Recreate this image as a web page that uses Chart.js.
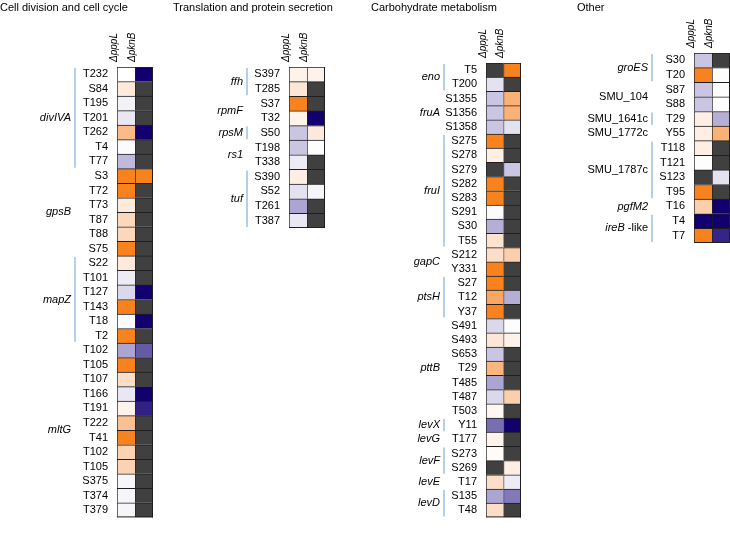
<!DOCTYPE html>
<html><head><meta charset="utf-8">
<script src="https://cdn.jsdelivr.net/npm/chart.js@4/dist/chart.umd.min.js"></script>
<style>
body{margin:0;background:#fff;width:730px;height:533px;overflow:hidden;position:relative;font-family:"Liberation Sans",Arial,sans-serif;}
canvas{position:absolute;left:0;top:0;}
.t{position:absolute;top:0px;font-size:11px;line-height:14px;color:#000;white-space:nowrap;z-index:5}
</style></head><body>
<div class="t" style="left:0">Cell division and cell cycle</div>
<div class="t" style="left:173px">Translation and protein secretion</div>
<div class="t" style="left:371px">Carbohydrate metabolism</div>
<div class="t" style="left:577px">Other</div>
<canvas id="c1" width="730" height="533"></canvas>
<canvas id="c2" width="730" height="533"></canvas>
<canvas id="c3" width="730" height="533"></canvas>
<canvas id="c4" width="730" height="533"></canvas>
<script>
// ---- data ----
const colLabels = ['ΔpppL', 'ΔpknB'];

// Cell division and cell cycle
const p1Genes = ['divIVA', 'gpsB', 'mapZ', 'mltG'];
const p1Counts = [7, 6, 6, 12];
const p1Sites = ['T232','S84','T195','T201','T262','T4','T77','S3','T72','T73','T87','T88','S75','S22','T101','T127','T143','T18','T2','T102','T105','T107','T166','T191','T222','T41','T102','T105','S375','T374','T379'];
const p1PppL = [0,0.5,-0.15,-0.25,1.6,-0.05,-0.7,3,3,0.5,1.0,1.0,3,0.5,-0.2,-0.4,3,-0.05,3,-0.9,3,0.8,-0.25,0.3,1.5,3,1.1,1.1,-0.1,-0.1,-0.1];
const p1PknB = [-3,null,null,null,-3,null,null,3,null,null,null,null,null,null,null,-3,null,-3,null,-1.6,null,null,-3,-2.3,null,null,null,null,null,null,null];

// Translation and protein secretion
const p2Genes = ['ffh', 'rpmF', 'rpsM', 'rs1', 'tuf'];
const p2Counts = [2, 2, 1, 2, 4];
const p2Sites = ['S397','T285','S37','T32','S50','T198','T338','S390','S52','T261','T387'];
const p2PppL = [0.3,0.6,3,0.3,-0.6,-0.6,-0.2,0.4,-0.3,-0.9,-0.25];
const p2PknB = [0.3,null,null,-3,0.5,-0.02,null,null,-0.1,null,null];

// Carbohydrate metabolism
const p3Genes = ['eno','fruA','fruI','gapC','ptsH','pttB','levX','levG','levF','levE','levD'];
const p3Counts = [2,3,8,2,3,7,1,1,2,1,2];
const p3Sites = ['T5','T200','S1355','S1356','S1358','S275','S278','S279','S282','S283','S291','S30','T55','S212','Y331','S27','T12','Y37','S491','S493','S653','T29','T485','T487','T503','Y11','T177','S273','S269','T17','S135','T48'];
const p3PppL = [null,-0.3,-0.6,-0.6,-0.6,3,0.4,null,3,3,-0.05,-0.8,0.7,0.8,3,3,2.0,3,-0.4,0.6,-0.6,1.7,-0.9,-0.4,0.2,-1.4,0.3,0.1,null,0.8,-0.9,0.8];
const p3PknB = [3,null,1.8,1.8,-0.3,null,null,-0.6,null,null,null,null,null,1.2,null,null,-0.8,null,-0.02,0.3,null,null,null,1.2,null,-3,null,null,0.4,-0.2,-1.3,null];

// Other
const p4Genes = ['groES','SMU_104','SMU_1641c','SMU_1772c','SMU_1787c','pgfM2','ireB-like'];
const p4Counts = [2,2,1,1,4,1,2];
const p4Sites = ['S30','T20','S87','S88','T29','Y55','T118','T121','S123','T95','T16','T4','T7'];
const p4PppL = [-0.6,3,-0.6,-0.6,0.4,0.4,0.4,0.05,null,3,1.2,-3,3];
const p4PknB = [null,-0.02,-0.02,-0.02,-0.8,1.8,null,null,-0.3,null,-3,-3,-2.2];

// ---- colours ----
const FONT = '"Liberation Sans", Arial, sans-serif';
const NA_COLOR = '#404040';
const stops = [[-3,[18,0,110]],[-2,[61,47,140]],[-1.2,[140,132,191]],[-0.6,[201,197,226]],[0,[255,255,255]],[0.6,[253,230,214]],[1.2,[251,207,172]],[2,[249,167,99]],[3,[247,130,30]]];
function colorFor(v) {
  if (v === null || v === undefined) return NA_COLOR;
  if (v <= stops[0][0]) return 'rgb(' + stops[0][1].join(',') + ')';
  for (let i = 1; i < stops.length; i++) {
    if (v <= stops[i][0]) {
      const [a, ca] = stops[i-1], [b, cb] = stops[i];
      const t = (v - a) / (b - a);
      return 'rgb(' + ca.map((c, k) => Math.round(c + (cb[k] - c) * t)).join(',') + ')';
    }
  }
  return 'rgb(' + stops[stops.length-1][1].join(',') + ')';
}

const genePlugin = {
  id: 'genes',
  afterDraw(chart, args, opts) {
    const ctx = chart.ctx, area = chart.chartArea, y = chart.scales.y;
    const n = chart.data.labels.length;
    const step = area.height / n;
    // closing border lines (right, bottom)
    ctx.save();
    ctx.fillStyle = '#1e1e1e';
    ctx.fillRect(area.right - 1, area.top, 1, area.height);
    ctx.fillRect(area.left, area.bottom - 1, area.right - area.left, 1);
    const lineX = area.left - 42;
    let start = 0;
    opts.genes.forEach((g, i) => {
      const cnt = opts.counts[i];
      const top = y.getPixelForValue(start) - step / 2;
      const bot = y.getPixelForValue(start + cnt - 1) + step / 2;
      if (i % 2 === 0) {
        ctx.strokeStyle = '#9fc3e8';
        ctx.lineWidth = 1.6;
        ctx.beginPath();
        ctx.moveTo(lineX, top + 1);
        ctx.lineTo(lineX, bot - 1);
        ctx.stroke();
      }
      const cy = (top + bot) / 2;
      const xr = lineX - 4;
      ctx.fillStyle = '#000';
      ctx.textBaseline = 'middle';
      ctx.textAlign = 'left';
      const ital = 'italic 11px ' + FONT, norm = '11px ' + FONT;
      if (g.startsWith('SMU_')) {
        ctx.font = norm;
        ctx.fillText(g, xr - ctx.measureText(g).width, cy);
      } else if (g.endsWith('-like')) {
        const p1 = g.replace('-like', '') + ' ', p2 = '-like';
        ctx.font = ital; const w1 = ctx.measureText(p1).width;
        ctx.font = norm; const w2 = ctx.measureText(p2).width;
        ctx.font = ital; ctx.fillText(p1, xr - w1 - w2, cy);
        ctx.font = norm; ctx.fillText(p2, xr - w2, cy);
      } else {
        ctx.font = ital;
        ctx.fillText(g, xr - ctx.measureText(g).width, cy);
      }
      start += cnt;
    });
    ctx.restore();
  }
};

const AXW = 60, AXH = 50;
function makePanel(id, sites, genes, counts, pppL, pknB, box) {
  const ds = (vals) => ({
    data: sites.map(() => 1),
    backgroundColor: vals.map(colorFor),
    borderColor: '#1e1e1e',
    borderWidth: {top: 1, left: 1, right: 0, bottom: 0},
    borderSkipped: false,
    barPercentage: 1,
    categoryPercentage: 1
  });
  new Chart(document.getElementById(id), {
    type: 'bar',
    data: { labels: sites, datasets: [ds(pppL), ds(pknB)] },
    plugins: [genePlugin],
    options: {
      indexAxis: 'y',
      responsive: false,
      animation: false,
      devicePixelRatio: 1,
      events: [],
      layout: { padding: { left: box.left - AXW, top: box.top - AXH, right: 730 - box.right, bottom: 533 - box.bottom } },
      plugins: { legend: {display: false}, tooltip: {enabled: false}, genes: { genes, counts } },
      scales: {
        x: {
          type: 'linear', position: 'top', min: 0, max: 2, stacked: true,
          grid: {display: false, drawTicks: false}, border: {display: false},
          afterBuildTicks: s => { s.ticks = [{value: 0.5}, {value: 1.5}]; },
          afterFit: s => { s.height = AXH; },
          ticks: { autoSkip: false, minRotation: 90, maxRotation: 90, padding: 5, color: '#000',
                   font: {size: 10, style: 'italic', family: FONT},
                   callback: v => colLabels[Math.floor(v)] }
        },
        y: {
          type: 'category', stacked: true, offset: true,
          grid: {display: false, drawTicks: false}, border: {display: false},
          afterFit: s => { s.width = AXW; },
          ticks: { autoSkip: false, padding: 9, color: '#000', font: {size: 11, family: FONT} }
        }
      }
    }
  });
}

makePanel('c1', p1Sites, p1Genes, p1Counts, p1PppL, p1PknB, {left: 117, right: 153, top: 67, bottom: 520});
makePanel('c2', p2Sites, p2Genes, p2Counts, p2PppL, p2PknB, {left: 289, right: 325, top: 67, bottom: 228});
makePanel('c3', p3Sites, p3Genes, p3Counts, p3PppL, p3PknB, {left: 486, right: 521, top: 63, bottom: 532});
makePanel('c4', p4Sites, p4Genes, p4Counts, p4PppL, p4PknB, {left: 694, right: 730, top: 53, bottom: 243});
</script>
</body></html>
